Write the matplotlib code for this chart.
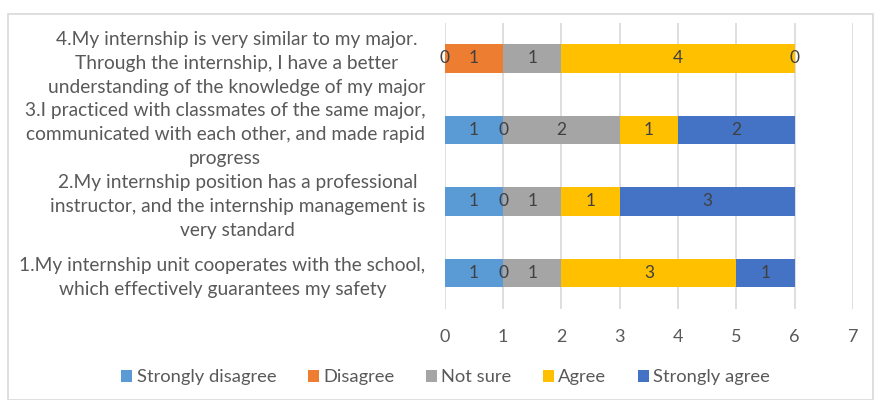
import matplotlib
matplotlib.use("Agg")
import matplotlib.pyplot as plt
from matplotlib.patches import Rectangle, Patch
import numpy as np

categories = [
    "1.My internship unit cooperates with the school,\nwhich effectively guarantees my safety",
    "2.My internship position has a professional\ninstructor, and the internship management is\nvery standard",
    "3.I practiced with classmates of the same major,\ncommunicated with each other, and made rapid\nprogress",
    "4.My internship is very similar to my major.\nThrough the internship, I have a better\nunderstanding of the knowledge of my major",
]
series_names = ["Strongly disagree", "Disagree", "Not sure", "Agree", "Strongly agree"]
strongly_disagree = [1, 1, 1, 0]
disagree = [0, 0, 0, 1]
not_sure = [1, 1, 2, 1]
agree = [3, 1, 1, 4]
strongly_agree = [1, 3, 2, 0]
x_ticks = [0, 1, 2, 3, 4, 5, 6, 7]

colors = ["#5B9BD5", "#ED7D31", "#A5A5A5", "#FFC000", "#4472C4"]
text_color = "#595959"
font = "Lato"

plt.rcParams["font.family"] = [font, "DejaVu Sans"]

fig = plt.figure(figsize=(8.74, 4.0), dpi=100)
ax = fig.add_axes([0.509, 0.2285, 0.467, 0.715])

# chart frame
fig.patches.append(Rectangle((8 / 874, 0.0), 865 / 874, 1 - 14 / 400,
                             transform=fig.transFigure, fill=False,
                             edgecolor="#D9D9D9", linewidth=1.2))

y = np.arange(len(categories))
left = np.zeros(len(categories))
all_series = [strongly_disagree, disagree, not_sure, agree, strongly_agree]
for name, vals, col in zip(series_names, all_series, colors):
    vals = np.array(vals, dtype=float)
    ax.barh(y, vals, left=left, height=0.4, color=col, label=name, zorder=3)
    for yi, (l, v) in enumerate(zip(left, vals)):
        ax.text(l + v / 2, yi, f"{int(v)}", ha="center", va="center",
                fontsize=12.5, color="#404040", zorder=4)
    left += vals

ax.set_xlim(0, 7)
ax.set_ylim(-0.5, 3.5)
ax.set_xticks(x_ticks)
ax.set_xticklabels([str(t) for t in x_ticks])
ax.set_yticks(y)
ax.set_yticklabels(categories, multialignment="center", linespacing=1.5)
ax.tick_params(axis="x", length=0, pad=15, labelsize=13, colors=text_color)
ax.tick_params(axis="y", length=0, pad=14, labelsize=13.8, colors=text_color)
ax.grid(axis="x", color="#D9D9D9", linewidth=1.2, zorder=0)
for s in ax.spines.values():
    s.set_visible(False)

handles = [Patch(facecolor=c, label=n) for n, c in zip(series_names, colors)]
fig.legend(handles=handles, loc="center", bbox_to_anchor=(0.51, 0.057),
           ncol=5, frameon=False, fontsize=13.2, labelcolor=text_color,
           handlelength=0.6, handleheight=0.6, handletextpad=0.25,
           columnspacing=1.7)

fig.savefig("out.png", dpi=100)
